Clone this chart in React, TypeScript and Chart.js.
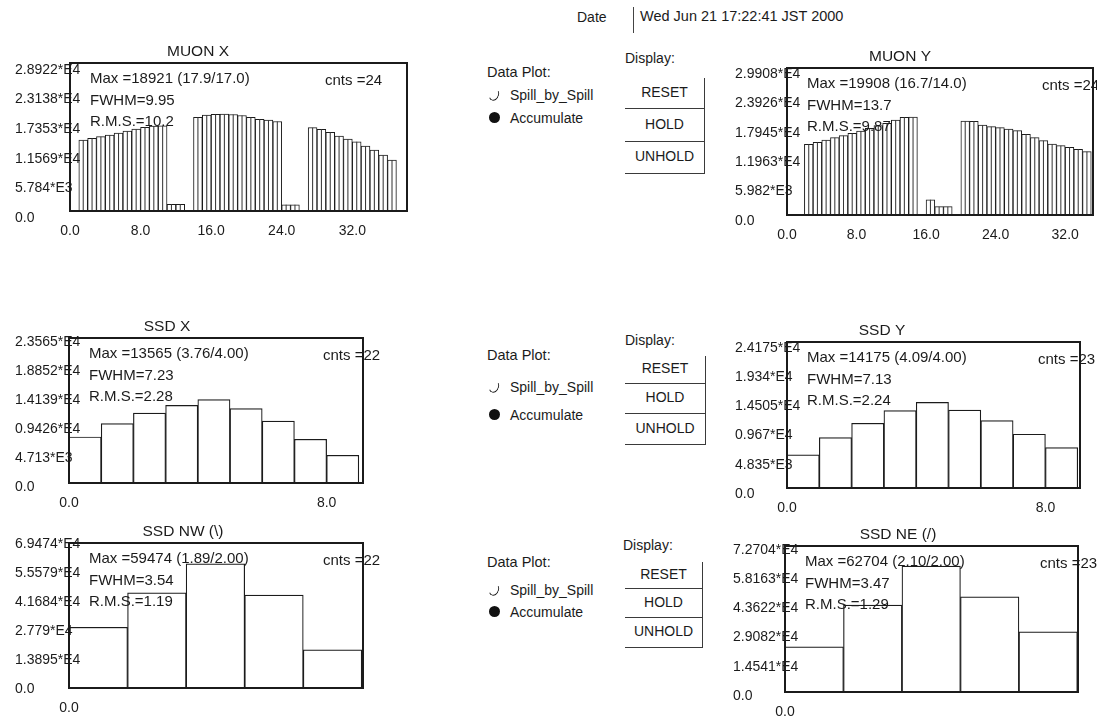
import React, { useEffect, useRef } from "react";
import { Chart, registerables } from "chart.js";

Chart.register(...registerables);

const FONT = "'Liberation Sans', Arial, Helvetica, sans-serif";
const INK = "#1b1b1b";

// ---------------- MUON X ----------------
const muonXValues = [
  0, 13870, 14200, 14520, 14850, 15240, 15630, 16020, 16350, 16610, 16650,
  1300, 1300, 0,
  18310, 18760, 18880, 18921, 18860, 18660, 18310, 17920, 17780, 17490,
  1200, 1200, 0,
  16280, 15960, 15380, 14660, 14070, 13540, 12700, 11920, 10940, 9970, 0,
];
const muonXYTicks = [0, 5784.4, 11568.8, 17353.2, 23137.6, 28922];
const muonXYLabels = ["0.0", "5.784*E3", "1.1569*E4", "1.7353*E4", "2.3138*E4", "2.8922*E4"];
const muonXXTicks = [0, 8, 16, 24, 32];
const muonXStats = ["Max =18921 (17.9/17.0)", "FWHM=9.95", "R.M.S.=10.2"];
const muonXCnts = "cnts =24";

// ---------------- MUON Y ----------------
const muonYValues = [
  0, 0, 14390, 14790, 15260, 15730, 16140, 16620, 17090, 17640, 18170, 18660, 19330, 19880, 19908,
  0, 3100, 1700, 1700, 0,
  19130, 19050, 18315, 17970, 17770, 17500, 17160, 16420, 15730, 15120, 14450, 14100, 13780, 13370, 12880,
];
const muonYYTicks = [0, 5981.6, 11963.2, 17944.8, 23926.4, 29908];
const muonYYLabels = ["0.0", "5.982*E3", "1.1963*E4", "1.7945*E4", "2.3926*E4", "2.9908*E4"];
const muonYXTicks = [0, 8, 16, 24, 32];
const muonYStats = ["Max =19908 (16.7/14.0)", "FWHM=13.7", "R.M.S.=9.87"];
const muonYCnts = "cnts =24";

// ---------------- SSD X ----------------
const ssdXValues = [7475, 9640, 11375, 12620, 13565, 12080, 10075, 7100, 4500];
const ssdXYTicks = [0, 4713, 9426, 14139, 18852, 23565];
const ssdXYLabels = ["0.0", "4.713*E3", "0.9426*E4", "1.4139*E4", "1.8852*E4", "2.3565*E4"];
const ssdXXTicks = [0, 8];
const ssdXStats = ["Max =13565 (3.76/4.00)", "FWHM=7.23", "R.M.S.=2.28"];
const ssdXCnts = "cnts =22";

// ---------------- SSD Y ----------------
const ssdYValues = [5494, 8350, 10713, 12800, 14175, 12910, 11150, 8900, 6700];
const ssdYYTicks = [0, 4835, 9670, 14505, 19340, 24175];
const ssdYYLabels = ["0.0", "4.835*E3", "0.967*E4", "1.4505*E4", "1.934*E4", "2.4175*E4"];
const ssdYXTicks = [0, 8];
const ssdYStats = ["Max =14175 (4.09/4.00)", "FWHM=7.13", "R.M.S.=2.24"];
const ssdYCnts = "cnts =23";

// ---------------- SSD NW ----------------
const ssdNWValues = [29090, 45630, 59474, 44520, 18280];
const ssdNWYTicks = [0, 13895, 27790, 41684, 55579, 69474];
const ssdNWYLabels = ["0.0", "1.3895*E4", "2.779*E4", "4.1684*E4", "5.5579*E4", "6.9474*E4"];
const ssdNWXTicks = [0];
const ssdNWStats = ["Max =59474 (1.89/2.00)", "FWHM=3.54", "R.M.S.=1.19"];
const ssdNWCnts = "cnts =22";

// ---------------- SSD NE ----------------
const ssdNEValues = [22450, 43260, 62704, 47400, 29940];
const ssdNEYTicks = [0, 14541, 29082, 43622, 58163, 72704];
const ssdNEYLabels = ["0.0", "1.4541*E4", "2.9082*E4", "4.3622*E4", "5.8163*E4", "7.2704*E4"];
const ssdNEXTicks = [0];
const ssdNEStats = ["Max =62704 (2.10/2.00)", "FWHM=3.47", "R.M.S.=1.29"];
const ssdNECnts = "cnts =23";

// ---------------- header / controls text ----------------
const dateLabel = "Date";
const dateValue = "Wed Jun 21 17:22:41 JST 2000";
const buttonLabels = ["RESET", "HOLD", "UNHOLD"];

// ---------------- layout (positions / sizes only) ----------------
const PAD_TOP = 28;
const PAD_RIGHT = 30;
const X_H = 32;

const layouts: any = {
  muonX: { labelLeft: 15, left: 70, top: 63, right: 407, bottom: 211, xMax: 38.2, titleDx: 128, cntsDx: 82, labelOffset: 7, bw: 1, inner: true },
  muonY: { labelLeft: 735, left: 787, top: 68, right: 1093, bottom: 215, xMax: 35.2, titleDx: 113, cntsDx: 51, labelOffset: 6, bw: 1, inner: true },
  ssdX: { labelLeft: 15, left: 69, top: 338, right: 363, bottom: 483, xMax: 9.13, titleDx: 98, cntsDx: 40, labelOffset: 4, bw: 1.2, inner: false },
  ssdY: { labelLeft: 735, left: 787, top: 342, right: 1080, bottom: 488, xMax: 9.07, titleDx: 95, cntsDx: 42, labelOffset: 6, bw: 1.2, inner: false },
  ssdNW: { labelLeft: 15, left: 69, top: 543, right: 363, bottom: 688, xMax: 5.02, titleDx: 114, cntsDx: 40, labelOffset: 1, bw: 1.2, inner: false },
  ssdNE: { labelLeft: 733, left: 785, top: 546, right: 1078, bottom: 692, xMax: 5.01, titleDx: 113, cntsDx: 38, labelOffset: 4, bw: 1.2, inner: false },
};

const controlGroups = [
  { displayX: 625, displayY: 58, dataPlotY: 72, spillY: 95, accumY: 118, btnTop: 78, bottoms: [109, 142, 174], rightX: 705 },
  { displayX: 625, displayY: 340, dataPlotY: 355, spillY: 387, accumY: 415, btnTop: 356, bottoms: [384, 414, 445], rightX: 706 },
  { displayX: 623, displayY: 545, dataPlotY: 562, spillY: 590, accumY: 612, btnTop: 562, bottoms: [589, 618, 648], rightX: 703 },
];

const panelDecor = {
  id: "panelDecor",
  afterDraw(chart: any, _args: any, opts: any) {
    const { ctx, chartArea: a } = chart;
    ctx.save();
    ctx.strokeStyle = INK;
    ctx.lineWidth = 2;
    ctx.strokeRect(a.left, a.top, a.right - a.left, a.bottom - a.top);
    ctx.fillStyle = INK;
    ctx.textBaseline = "middle";
    ctx.font = `15.5px ${FONT}`;
    ctx.textAlign = "center";
    ctx.fillText(opts.title, a.left + opts.titleDx, a.top - 11);
    ctx.font = `15px ${FONT}`;
    ctx.textAlign = "left";
    const dys = [16, 38, 59];
    opts.stats.forEach((s: string, i: number) => ctx.fillText(s, a.left + 20, a.top + dys[i]));
    ctx.fillText(opts.cnts, a.right - opts.cntsDx, a.top + 18);
    ctx.restore();
  },
};

function HistPanel(props: any) {
  const { values, yTicks, yLabels, xTicks, title, stats, cnts, lay } = props;
  const ref = useRef<HTMLCanvasElement>(null);
  const width = lay.right - lay.labelLeft + PAD_RIGHT;
  const height = lay.bottom - lay.top + PAD_TOP + X_H;

  useEffect(() => {
    const pts = values.map((v: number, i: number) => ({ x: i + 0.5, y: v }));
    const datasets: any[] = [
      {
        data: pts,
        backgroundColor: "#ffffff",
        borderColor: INK,
        borderWidth: lay.bw,
        borderSkipped: "start",
        barPercentage: 1,
        categoryPercentage: 1,
        grouped: false,
        order: 1,
      },
    ];
    if (lay.inner) {
      datasets.push({
        data: pts,
        backgroundColor: "#3a3a3a",
        borderWidth: 0,
        barPercentage: 0.12,
        categoryPercentage: 1,
        grouped: false,
        order: 0,
      });
    }
    const chart = new Chart(ref.current as HTMLCanvasElement, {
      type: "bar",
      data: { datasets },
      options: {
        animation: false,
        responsive: false,
        devicePixelRatio: 1,
        layout: { padding: { top: PAD_TOP, right: PAD_RIGHT, left: 0, bottom: 0 } },
        plugins: {
          legend: { display: false },
          tooltip: { enabled: false },
          panelDecor: { title, stats, cnts, titleDx: lay.titleDx, cntsDx: lay.cntsDx },
        } as any,
        scales: {
          x: {
            type: "linear",
            min: 0,
            max: lay.xMax,
            offset: false,
            grid: { display: false, drawTicks: false },
            border: { display: false },
            ticks: {
              padding: 12,
              autoSkip: false,
              maxRotation: 0,
              color: INK,
              font: { family: FONT, size: 14 },
              callback: (v: any) => Number(v).toFixed(1),
            },
            afterBuildTicks: (s: any) => {
              s.ticks = xTicks.map((v: number) => ({ value: v }));
            },
            afterFit: (s: any) => {
              s.height = X_H;
            },
          },
          y: {
            type: "linear",
            min: 0,
            max: yTicks[yTicks.length - 1],
            grid: { display: false, drawTicks: false },
            border: { display: false },
            ticks: {
              z: 1,
              mirror: true,
              padding: lay.labelLeft - lay.left,
              labelOffset: lay.labelOffset,
              autoSkip: false,
              color: INK,
              font: { family: FONT, size: 14 },
              callback: (_v: any, i: number) => yLabels[i],
            },
            afterBuildTicks: (s: any) => {
              s.ticks = yTicks.map((v: number) => ({ value: v }));
            },
            afterFit: (s: any) => {
              s.width = lay.left - lay.labelLeft;
            },
          },
        } as any,
      },
      plugins: [panelDecor as any],
    });
    return () => chart.destroy();
  }, []);

  return (
    <canvas
      ref={ref}
      width={width}
      height={height}
      style={{ position: "absolute", left: lay.labelLeft, top: lay.top - PAD_TOP, width, height }}
    />
  );
}

function Txt({ x, y, s, size = 14 }: any) {
  return (
    <div
      style={{
        position: "absolute",
        left: x,
        top: y - 9,
        lineHeight: "18px",
        fontSize: size,
        whiteSpace: "nowrap",
      }}
    >
      {s}
    </div>
  );
}

function Controls({ g }: any) {
  const tops = [g.btnTop, g.bottoms[0], g.bottoms[1]];
  return (
    <>
      <Txt x={g.displayX} y={g.displayY} s="Display:" />
      <Txt x={487} y={g.dataPlotY} s="Data Plot:" size={14.5} />
      <span
        style={{
          position: "absolute",
          left: 489,
          top: g.spillY - 7,
          width: 8,
          height: 11,
          borderRadius: "50%",
          border: "1.6px solid transparent",
          borderRightColor: "#222",
          borderBottomColor: "#222",
          transform: "rotate(20deg)",
        }}
      />
      <Txt x={510} y={g.spillY} s="Spill_by_Spill" />
      <span
        style={{
          position: "absolute",
          left: 489,
          top: g.accumY - 6,
          width: 11,
          height: 11,
          borderRadius: "50%",
          background: "#111",
        }}
      />
      <Txt x={510} y={g.accumY} s="Accumulate" />
      {buttonLabels.map((b, i) => (
        <div
          key={b}
          style={{
            position: "absolute",
            left: 625,
            top: tops[i],
            width: g.rightX - 625,
            height: g.bottoms[i] - tops[i],
            boxSizing: "border-box",
            borderRight: "1.5px solid #3a3a3a",
            borderBottom: "1.5px solid #3a3a3a",
            display: "flex",
            alignItems: "center",
            justifyContent: "center",
            paddingBottom: 3,
            fontSize: 14,
          }}
        >
          {b}
        </div>
      ))}
    </>
  );
}

export default function App() {
  return (
    <div
      style={{
        position: "fixed",
        left: 0,
        top: 0,
        width: 1097,
        height: 717,
        overflow: "hidden",
        background: "#ffffff",
        fontFamily: FONT,
        color: INK,
      }}
    >
      <Txt x={577} y={17} s={dateLabel} />
      <div style={{ position: "absolute", left: 633, top: 7, width: 1, height: 26, background: "#444" }} />
      <Txt x={640} y={16} s={dateValue} size={14.5} />

      {controlGroups.map((g, i) => (
        <Controls key={i} g={g} />
      ))}

      <HistPanel values={muonXValues} yTicks={muonXYTicks} yLabels={muonXYLabels} xTicks={muonXXTicks}
        title="MUON X" stats={muonXStats} cnts={muonXCnts} lay={layouts.muonX} />
      <HistPanel values={muonYValues} yTicks={muonYYTicks} yLabels={muonYYLabels} xTicks={muonYXTicks}
        title="MUON Y" stats={muonYStats} cnts={muonYCnts} lay={layouts.muonY} />
      <HistPanel values={ssdXValues} yTicks={ssdXYTicks} yLabels={ssdXYLabels} xTicks={ssdXXTicks}
        title="SSD X" stats={ssdXStats} cnts={ssdXCnts} lay={layouts.ssdX} />
      <HistPanel values={ssdYValues} yTicks={ssdYYTicks} yLabels={ssdYYLabels} xTicks={ssdYXTicks}
        title="SSD Y" stats={ssdYStats} cnts={ssdYCnts} lay={layouts.ssdY} />
      <HistPanel values={ssdNWValues} yTicks={ssdNWYTicks} yLabels={ssdNWYLabels} xTicks={ssdNWXTicks}
        title="SSD NW (\)" stats={ssdNWStats} cnts={ssdNWCnts} lay={layouts.ssdNW} />
      <HistPanel values={ssdNEValues} yTicks={ssdNEYTicks} yLabels={ssdNEYLabels} xTicks={ssdNEXTicks}
        title="SSD NE (/)" stats={ssdNEStats} cnts={ssdNECnts} lay={layouts.ssdNE} />
    </div>
  );
}
